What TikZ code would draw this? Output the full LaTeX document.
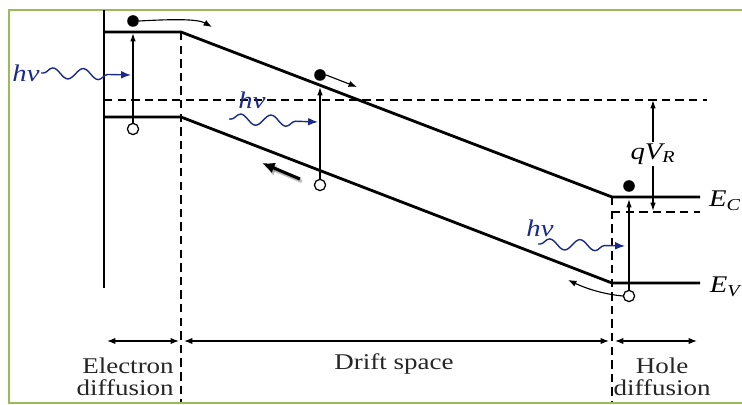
\documentclass[tikz,border=0pt]{standalone}
\usepackage{fontspec}
\setmainfont[FakeStretch=1.2]{Liberation Serif}
\usetikzlibrary{arrows.meta, positioning, calc, decorations.pathmorphing}
\definecolor{phblue}{HTML}{1B2A8A}
\definecolor{framegreen}{HTML}{9BBB59}
\tikzset{
    band/.style={line width=2pt, black},
    guide/.style={line width=0.9pt, dash pattern=on 0.21cm off 0.13cm},
    elec/.style={circle, fill=black, inner sep=0pt, minimum size=0.29cm},
    hole/.style={circle, draw=black, fill=white, line width=0.9pt,
        inner sep=0pt, minimum size=0.28cm},
    excite/.style={-{Latex[length=6pt, width=4pt]}, line width=0.9pt},
    drift/.style={-{Latex[length=6pt, width=4.5pt]}, line width=0.8pt},
    bigarr/.style={-{Latex[length=9pt, width=8pt]}, line width=2.2pt},
    photon/.style={phblue, line width=1pt, -{Latex[length=7pt, width=5.5pt]},
        decorate, decoration={snake, amplitude=3.8pt, segment length=0.76cm,
        pre length=0.05cm, post length=0.3cm}},
    photlbl/.style={font=\fontsize{17}{17}\selectfont\itshape, text=phblue, inner sep=1pt},
    span/.style={{Latex[length=6pt, width=4.5pt]}-{Latex[length=6pt, width=4.5pt]},
        line width=0.8pt},
    region/.style={font=\fontsize{16}{15.6}\selectfont, text=black!85, inner sep=0pt},
    levlbl/.style={font=\fontsize{17}{17}\selectfont\itshape, inner sep=1pt},
}

\begin{document}
\begin{tikzpicture}[x=0.025cm, y=-0.025cm]
\useasboundingbox (0,0) rectangle (742,405);

% frame
\draw[framegreen, line width=1.4pt] (742,10) -- (9,10) -- (9,403) -- (742,403);

% ═══ BAND EDGES ═══
\coordinate (c1) at (104,32);  \coordinate (c2) at (181,32);
\coordinate (c3) at (612,197); \coordinate (c4) at (700,197);
\coordinate (v1) at (104,117); \coordinate (v2) at (181,117);
\coordinate (v3) at (612,283); \coordinate (v4) at (700,283);

\draw[line width=1.1pt] (104,10) -- (104,288);
\draw[band] (c1) -- (c2) -- (c3) -- (c4);
\draw[band] (v1) -- (v2) -- (v3) -- (v4);

% dashed guides
\draw[guide] (104,100) -- (707,100);
\draw[guide] (612,212) -- (700,212);
\draw[guide] (c2) -- (181,402);
\draw[guide] (c3) -- (612,402);

% level labels
\node[levlbl] (ec) at (725,201) {E\textsubscript{C}};
\node[levlbl] (ev) at (725,287) {E\textsubscript{V}};

% qV_R
\node[levlbl, fill=white] (qv) at (653,154) {qV\textsubscript{R}};
\coordinate (qtop) at (653,100);
\coordinate (qbot) at (653,211);
\draw[excite] (qv.north) -- (qtop);
\draw[excite] (qv.south) -- (qbot);

% ═══ ELECTRON DIFFUSION REGION ═══
\node[elec] (eA) at (133,21) {};
\node[hole] (hA) at (133,129) {};
\coordinate (tA) at (133,33);
\draw[excite] (hA.north) -- (tA);
\coordinate (dA) at (212,27);
\draw[drift] (eA.east) .. controls (175,19) and (198,19) .. (dA);
\node[photlbl] (hvA) at (26,73) {hν};
\coordinate (pA) at (131,75);
\draw[photon] (hvA.east) -- (pA);

% ═══ DRIFT SPACE ═══
\node[elec] (eB) at (320,75) {};
\node[hole] (hB) at (320,185) {};
\coordinate (tB) at (320,87);
\draw[excite] (hB.north) -- (tB);
\coordinate (dB) at (357,87);
\draw[drift] (eB.east) -- (dB);
\node[photlbl] (hvB) at (252,100) {hν};
\coordinate (sB) at (229,119);
\coordinate (pB) at (318,122);
\draw[photon] (sB) -- (pB);
\coordinate (ta) at (300,179);
\coordinate (tb) at (262,163);
\draw[bigarr, black!45, opacity=0.6] ([xshift=1.2pt, yshift=-1.8pt]ta) -- ([xshift=1.2pt, yshift=-1.8pt]tb);
\draw[bigarr] (ta) -- (tb);

% ═══ HOLE DIFFUSION REGION ═══
\node[elec] (eC) at (629,186) {};
\node[hole] (hC) at (629,296) {};
\coordinate (tC) at (629,199);
\draw[excite] (hC.north) -- (tC);
\coordinate (dC) at (568,280);
\draw[drift] (hC.west) .. controls (602,294) and (585,288) .. (dC);
\node[photlbl] (hvC) at (540,228) {hν};
\coordinate (sC) at (538,244);
\coordinate (pC) at (625,246);
\draw[photon] (sC) -- (pC);

% ═══ REGIONS ═══
\coordinate (r0) at (107,341); \coordinate (r1) at (179,341);
\coordinate (r2) at (184,341); \coordinate (r3) at (609,341);
\coordinate (r4) at (615,341); \coordinate (r5) at (697,341);
\draw[span] (r0) -- (r1);
\draw[span] (r2) -- (r3);
\draw[span] (r4) -- (r5);

\node[region, align=right, anchor=east] (elreg) at (174,377) {Electron\\diffusion};
\node[region] (drreg) at (394,364) {Drift space};
\node[region, align=center] (hoeg) at (662,377) {Hole\\diffusion};

\end{tikzpicture}
\end{document}
